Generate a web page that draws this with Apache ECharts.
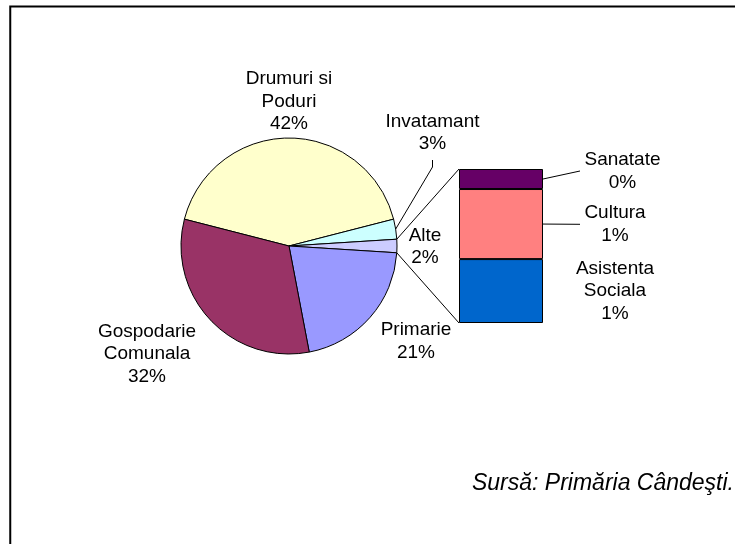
<!DOCTYPE html>
<html>
<head>
<meta charset="utf-8">
<title>Pie of bar</title>
<script src="https://cdn.jsdelivr.net/npm/echarts@6/dist/echarts.min.js"></script>
<style>
html, body { margin: 0; padding: 0; background: #fff; }
#chart-container { width: 735px; height: 544px; }
</style>
</head>
<body>
<div id="chart-container"></div>
<script>
// --- data ---
// main pie, clockwise starting at the Drumuri slice
const pieNames = ['Drumuri si\nPoduri', 'Invatamant', 'Alte', 'Primarie', 'Gospodarie\nComunala'];
const pieValues = [42, 3, 2, 21, 32];
const pieColors = ['#FFFFCC', '#CCFFFF', '#CCCCFF', '#9999FF', '#993366'];

// the "Alte" slice split into the bar, bottom to top
const barNames = ['Asistenta\nSociala', 'Cultura', 'Sanatate'];
const barValues = [0.83, 0.91, 0.26];
const barColors = ['#0066CC', '#FF8080', '#660066'];

const sourceText = 'Sursă: Primăria Cândeşti.';

// --- layout ---
const pieCenter = [289, 246];
const pieRadius = 108;
const barBox = { left: 459, top: 169, width: 84, height: 154 };
const pieLabelSpots = [[289, 101.5], [432.5, 133], [425, 247], [416, 341.5], [147, 354]];
const barLabelSpots = [[615, 291], [615, 224.5], [622.5, 171.3]];
const barLeaderEnds = [null, [580, 224.3], [580, 171]];
const labelFont = 'Liberation Sans, Arial, sans-serif';

const total = pieValues.reduce((a, b) => a + b, 0);
const alteIndex = 2;
const alteTotal = pieValues[alteIndex];
const degPerUnit = 360 / total;
// put the middle of the Alte slice on the right (3 o'clock)
const startAngle = (pieValues[0] + pieValues[1] + alteTotal / 2) * degPerUnit;

function edgePoint(angleDeg) {
    const a = angleDeg * Math.PI / 180;
    return [pieCenter[0] + pieRadius * Math.cos(a), pieCenter[1] - pieRadius * Math.sin(a)];
}

function sliceMidAngle(idx) {
    let before = 0;
    for (let i = 0; i < idx; i++) before += pieValues[i];
    return startAngle - (before + pieValues[idx] / 2) * degPerUnit;
}

// y pixel of the middle of a bar segment
function barSegmentMid(idx) {
    let below = 0;
    for (let i = 0; i < idx; i++) below += barValues[i];
    const v = below + barValues[idx] / 2;
    return barBox.top + barBox.height * (1 - v / alteTotal);
}

const alteHalf = alteTotal / 2 * degPerUnit;
const alteTop = edgePoint(alteHalf);
const alteBottom = edgePoint(-alteHalf);

const labelBase = {
    show: true,
    fontFamily: labelFont,
    fontSize: 19,
    lineHeight: 22.5,
    color: '#000'
};

const barSeries = barNames.map(function (name, i) {
    return {
        type: 'bar',
        name: name,
        stack: 'alte',
        barWidth: '100%',
        silent: true,
        data: [barValues[i]],
        itemStyle: { color: barColors[i], borderColor: '#000', borderWidth: 1 },
        label: Object.assign({}, labelBase, {
            position: 'right',
            formatter: function () { return name + '\n' + Math.round(barValues[i] / total * 100) + '%'; }
        }),
        labelLayout: function () {
            const s = barLabelSpots[i];
            return { x: s[0], y: s[1], align: 'center', verticalAlign: 'middle' };
        }
    };
});

// leader lines from the bar segments to their labels
const barLeaders = [];
barLeaderEnds.forEach(function (end, i) {
    if (!end) return;
    barLeaders.push({
        type: 'line', silent: true,
        shape: { x1: barBox.left + barBox.width, y1: barSegmentMid(i), x2: end[0], y2: end[1] },
        style: { stroke: '#000', lineWidth: 1 }
    });
});

var myChart = echarts.init(document.getElementById('chart-container'));

const option = {
    animation: false,
    backgroundColor: '#fff',
    grid: { left: barBox.left, top: barBox.top, width: barBox.width, height: barBox.height },
    xAxis: { type: 'category', data: ['Alte'], show: false },
    yAxis: { type: 'value', min: 0, max: alteTotal, show: false },
    series: [
        {
            type: 'pie',
            center: pieCenter,
            radius: pieRadius,
            startAngle: startAngle,
            clockwise: true,
            silent: true,
            avoidLabelOverlap: false,
            data: pieNames.map(function (n, i) {
                return {
                    name: n,
                    value: pieValues[i],
                    itemStyle: { color: pieColors[i] },
                    labelLine: { show: i === 1 }
                };
            }),
            itemStyle: { borderColor: '#000', borderWidth: 1 },
            label: Object.assign({}, labelBase, {
                position: 'outside',
                formatter: function (p) { return p.name + '\n' + Math.round(p.percent) + '%'; }
            }),
            labelLine: { lineStyle: { color: '#000', width: 1 } },
            labelLayout: function (params) {
                const s = pieLabelSpots[params.dataIndex];
                const out = { x: s[0], y: s[1], align: 'center', verticalAlign: 'middle' };
                if (params.dataIndex === 1) {
                    const p0 = edgePoint(sliceMidAngle(1));
                    out.labelLinePoints = [p0, [s[0], s[1] + 34], [s[0], s[1] + 27]];
                }
                return out;
            }
        }
    ].concat(barSeries),
    graphic: [
        // frame (runs off the right and bottom of the picture)
        { type: 'rect', shape: { x: 10.25, y: 6.5, width: 900, height: 700 }, style: { fill: null, stroke: '#000', lineWidth: 2 }, silent: true },
        { type: 'line', shape: { x1: alteTop[0], y1: alteTop[1], x2: barBox.left, y2: barBox.top }, style: { stroke: '#000', lineWidth: 1 }, silent: true },
        { type: 'line', shape: { x1: alteBottom[0], y1: alteBottom[1], x2: barBox.left, y2: barBox.top + barBox.height }, style: { stroke: '#000', lineWidth: 1 }, silent: true },
        {
            type: 'text', right: 1, top: 472, silent: true,
            style: { text: sourceText, font: 'italic 23px ' + labelFont, fill: '#000' }
        }
    ].concat(barLeaders)
};

myChart.setOption(option);

window.addEventListener('resize', function () {
    myChart.resize();
});
</script>
</body>
</html>
